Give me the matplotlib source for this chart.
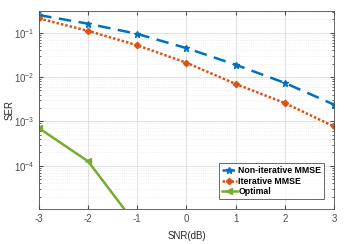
import matplotlib
matplotlib.use("Agg")
import matplotlib.pyplot as plt
import numpy as np
from matplotlib.ticker import LogLocator, NullFormatter

snr = [-3, -2, -1, 0, 1, 2, 3]
ser_noniter = [0.25, 0.16, 0.094, 0.045, 0.019, 0.0074, 0.0024]
ser_iter = [0.21, 0.11, 0.052, 0.021, 0.007, 0.0026, 0.00077]
ser_opt = [0.0007, 0.000125, 4.3e-6, 1e-7, 1e-9, 1e-11, 1e-13]
labels = ["Non-iterative MMSE", "Iterative MMSE", "Optimal"]
xticks = [-3, -2, -1, 0, 1, 2, 3]

plt.rcParams['font.family'] = ['Liberation Sans', 'DejaVu Sans']
fig = plt.figure(figsize=(3.46, 2.44), dpi=100)
ax = fig.add_axes([0.113, 0.143, 0.852, 0.812])

ax.semilogy(snr, ser_noniter, color='#0072BD', linestyle=(0, (5, 3)), lw=1.8,
            marker='*', ms=5, label=labels[0])
ax.semilogy(snr, ser_iter, color='#D95319', linestyle=(0, (1, 0.8)), lw=1.8,
            marker='D', ms=3.2, label=labels[1])
ax.semilogy(snr, ser_opt, color='#77AC30', linestyle='-', lw=1.8,
            marker='<', ms=4.5, label=labels[2])

ax.set_xlim(-3, 3)
ax.set_ylim(1.05e-5, 0.31)
ax.set_xticks(xticks)
ax.set_xticklabels([str(t) for t in xticks])
ax.set_yticks([1e-4, 1e-3, 1e-2, 1e-1])
ax.yaxis.set_minor_locator(LogLocator(base=10, subs=np.arange(2, 10), numticks=20))
ax.yaxis.set_minor_formatter(NullFormatter())

ax.grid(True, which='major', color='#dcdcdc', lw=0.6)
ax.grid(True, which='minor', color='#e6e6e6', lw=0.5, linestyle=':')
ax.set_axisbelow(True)

for s in ax.spines.values():
    s.set_color('#4d4d4d')
    s.set_linewidth(0.6)
ax.tick_params(which='both', direction='in', colors='#4d4d4d', labelsize=7, top=True, right=True)
ax.tick_params(which='major', length=3)
ax.tick_params(which='minor', length=1.5)

ax.set_xlabel('SNR(dB)', fontsize=7, color='#262626', labelpad=5)
ax.set_ylabel('SER', fontsize=7, color='#262626', labelpad=-1)

leg = ax.legend(loc='lower right', bbox_to_anchor=(1.0 - 10/295, 10/197),
                prop={'weight': 'bold', 'size': 6.3},
                frameon=True, fancybox=False, edgecolor='#262626',
                handlelength=1.7, handletextpad=0.2, borderpad=0.3,
                labelspacing=0.2, borderaxespad=0.0)
leg.get_frame().set_linewidth(0.6)

fig.savefig('out.png', dpi=100)
